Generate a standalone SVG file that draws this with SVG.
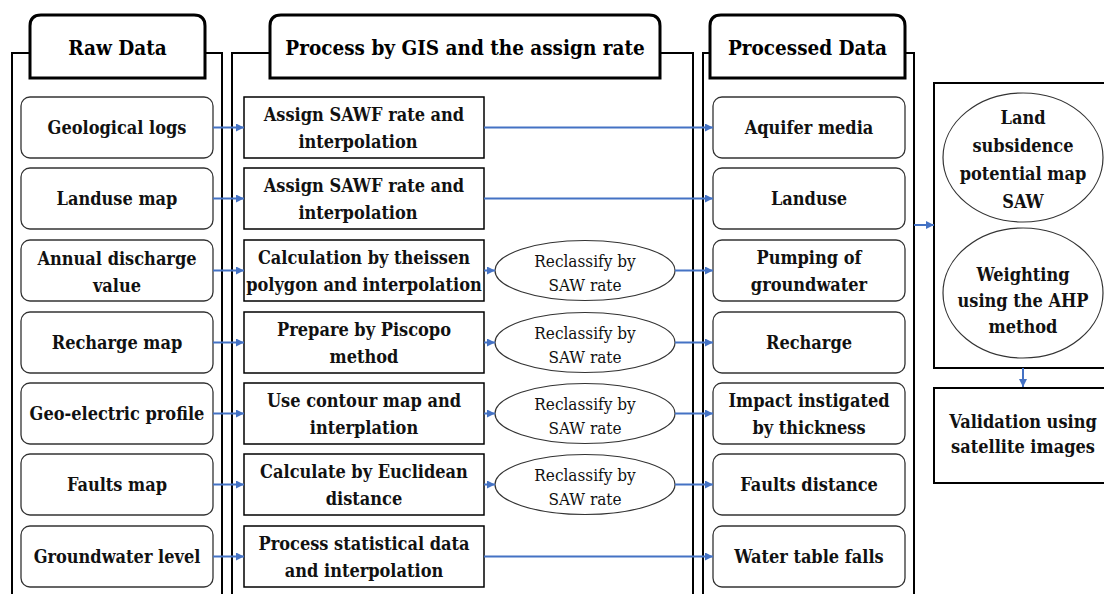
<svg xmlns="http://www.w3.org/2000/svg" width="1104" height="594" viewBox="0 0 1104 594">
<defs>
<marker id="ah" viewBox="0 0 10 10" refX="10" refY="5" markerWidth="4" markerHeight="4" orient="auto" markerUnits="strokeWidth">
<path d="M0,0 L10,5 L0,10 z" fill="#4472C4"/>
</marker>
<style>
.col{fill:none;stroke:#000;stroke-width:2}
.tab{fill:#fff;stroke:#000;stroke-width:3}
.node{fill:#fff;stroke:#333;stroke-width:1.3}
.box{fill:#fff;stroke:#000;stroke-width:1.5}
.ell{fill:#fff;stroke:#333;stroke-width:1.2}
text{font-family:'DejaVu Serif Condensed','DejaVu Serif','Liberation Serif',serif}
.hd{font-weight:bold;font-size:20.5px;fill:#000;text-anchor:middle}
.t{font-weight:bold;font-size:18px;fill:#111;text-anchor:middle}
.r{font-size:17px;fill:#111;text-anchor:middle}
.c{fill:none;stroke:#4472C4;stroke-width:2;marker-end:url(#ah)}
</style>
</defs>
<rect width="1104" height="594" fill="#fff"/>
<g id="col-raw">
<path class="col" d="M12,600 V53 H222 V600"/>
<path class="tab" d="M30,78 V26 Q30,15 41,15 H194 Q205,15 205,26 V78 Z"/>
<text class="hd" x="117.5" y="55">Raw Data</text>
</g>
<g id="col-process">
<path class="col" d="M232,600 V53 H693 V600"/>
<path class="tab" d="M270,78 V26 Q270,15 281,15 H649 Q660,15 660,26 V78 Z"/>
<text class="hd" x="465" y="55">Process by GIS and the assign rate</text>
</g>
<g id="col-processed">
<path class="col" d="M703,600 V53 H914 V600"/>
<path class="tab" d="M710,78 V26 Q710,15 721,15 H894 Q905,15 905,26 V78 Z"/>
<text class="hd" x="807.5" y="55">Processed Data</text>
</g>

<g id="raw1"><rect class="node" x="21" y="97" width="192" height="61" rx="9"/><text class="t" x="117" y="134">Geological logs</text></g>
<g id="raw2"><rect class="node" x="21" y="168" width="192" height="61" rx="9"/><text class="t" x="117" y="205">Landuse map</text></g>
<g id="raw3"><rect class="node" x="21" y="240" width="192" height="61" rx="9"/><text class="t" x="117" y="265">Annual discharge</text><text class="t" x="117" y="292">value</text></g>
<g id="raw4"><rect class="node" x="21" y="312" width="192" height="61" rx="9"/><text class="t" x="117" y="349">Recharge map</text></g>
<g id="raw5"><rect class="node" x="21" y="383" width="192" height="61" rx="9"/><text class="t" x="117" y="420">Geo-electric profile</text></g>
<g id="raw6"><rect class="node" x="21" y="454" width="192" height="61" rx="9"/><text class="t" x="117" y="491">Faults map</text></g>
<g id="raw7"><rect class="node" x="21" y="526" width="192" height="61" rx="9"/><text class="t" x="117" y="563">Groundwater level</text></g>

<g id="proc1"><rect class="box" x="244" y="97" width="240" height="61"/><text class="t" x="364" y="121">Assign SAWF rate and</text><text class="t" x="358" y="148">interpolation</text></g>
<g id="proc2"><rect class="box" x="244" y="168" width="240" height="61"/><text class="t" x="364" y="192">Assign SAWF rate and</text><text class="t" x="358" y="219">interpolation</text></g>
<g id="proc3"><rect class="box" x="244" y="240" width="240" height="61"/><text class="t" x="364" y="264">Calculation by theissen</text><text class="t" x="364" y="291">polygon and interpolation</text></g>
<g id="proc4"><rect class="box" x="244" y="312" width="240" height="61"/><text class="t" x="364" y="336">Prepare by Piscopo</text><text class="t" x="364" y="363">method</text></g>
<g id="proc5"><rect class="box" x="244" y="383" width="240" height="61"/><text class="t" x="364" y="407">Use contour map and</text><text class="t" x="364" y="434">interplation</text></g>
<g id="proc6"><rect class="box" x="244" y="454" width="240" height="61"/><text class="t" x="364" y="478">Calculate by Euclidean</text><text class="t" x="364" y="505">distance</text></g>
<g id="proc7"><rect class="box" x="244" y="526" width="240" height="61"/><text class="t" x="364" y="550">Process statistical data</text><text class="t" x="364" y="577">and interpolation</text></g>

<g id="recl3"><ellipse class="ell" cx="585" cy="270.5" rx="90" ry="30"/><text class="r" x="585" y="267">Reclassify by</text><text class="r" x="585" y="291">SAW rate</text></g>
<g id="recl4"><ellipse class="ell" cx="585" cy="342.5" rx="90" ry="30"/><text class="r" x="585" y="339">Reclassify by</text><text class="r" x="585" y="363">SAW rate</text></g>
<g id="recl5"><ellipse class="ell" cx="585" cy="413.5" rx="90" ry="30"/><text class="r" x="585" y="410">Reclassify by</text><text class="r" x="585" y="434">SAW rate</text></g>
<g id="recl6"><ellipse class="ell" cx="585" cy="484.5" rx="90" ry="30"/><text class="r" x="585" y="481">Reclassify by</text><text class="r" x="585" y="505">SAW rate</text></g>

<g id="out1"><rect class="node" x="713" y="97" width="192" height="61" rx="9"/><text class="t" x="809" y="134">Aquifer media</text></g>
<g id="out2"><rect class="node" x="713" y="168" width="192" height="61" rx="9"/><text class="t" x="809" y="205">Landuse</text></g>
<g id="out3"><rect class="node" x="713" y="240" width="192" height="61" rx="9"/><text class="t" x="809" y="264">Pumping of</text><text class="t" x="809" y="291">groundwater</text></g>
<g id="out4"><rect class="node" x="713" y="312" width="192" height="61" rx="9"/><text class="t" x="809" y="349">Recharge</text></g>
<g id="out5"><rect class="node" x="713" y="383" width="192" height="61" rx="9"/><text class="t" x="809" y="407">Impact instigated</text><text class="t" x="809" y="434">by thickness</text></g>
<g id="out6"><rect class="node" x="713" y="454" width="192" height="61" rx="9"/><text class="t" x="809" y="491">Faults distance</text></g>
<g id="out7"><rect class="node" x="713" y="526" width="192" height="61" rx="9"/><text class="t" x="809" y="563">Water table falls</text></g>

<g id="result">
<rect class="col" x="934" y="83" width="180" height="285"/>
<ellipse class="ell" cx="1023" cy="157.5" rx="80" ry="64.5"/>
<text class="t" x="1023" y="124">Land</text>
<text class="t" x="1023" y="152">subsidence</text>
<text class="t" x="1023" y="180">potential map</text>
<text class="t" x="1023" y="208">SAW</text>
<ellipse class="ell" cx="1023" cy="293" rx="80" ry="65"/>
<text class="t" x="1023" y="281">Weighting</text>
<text class="t" x="1023" y="307">using the AHP</text>
<text class="t" x="1023" y="333">method</text>
</g>
<g id="validation">
<rect class="col" x="934" y="388" width="180" height="95"/>
<text class="t" x="1023" y="428">Validation using</text>
<text class="t" x="1023" y="453">satellite images</text>
</g>
<g id="connectors">
<path class="c" d="M213,127.5 H244"/>
<path class="c" d="M213,198.5 H244"/>
<path class="c" d="M213,270.5 H244"/>
<path class="c" d="M213,342.5 H244"/>
<path class="c" d="M213,413.5 H244"/>
<path class="c" d="M213,484.5 H244"/>
<path class="c" d="M213,556.5 H244"/>
<path class="c" d="M484,127.5 H713"/>
<path class="c" d="M484,198.5 H713"/>
<path class="c" d="M484,556.5 H713"/>
<path class="c" d="M484,270.5 H495"/>
<path class="c" d="M484,342.5 H495"/>
<path class="c" d="M484,413.5 H495"/>
<path class="c" d="M484,484.5 H495"/>
<path class="c" d="M675,270.5 H713"/>
<path class="c" d="M675,342.5 H713"/>
<path class="c" d="M675,413.5 H713"/>
<path class="c" d="M675,484.5 H713"/>
<path class="c" d="M914,225 H934"/>
<path class="c" d="M1023,368 V387"/>
</g>
</svg>
